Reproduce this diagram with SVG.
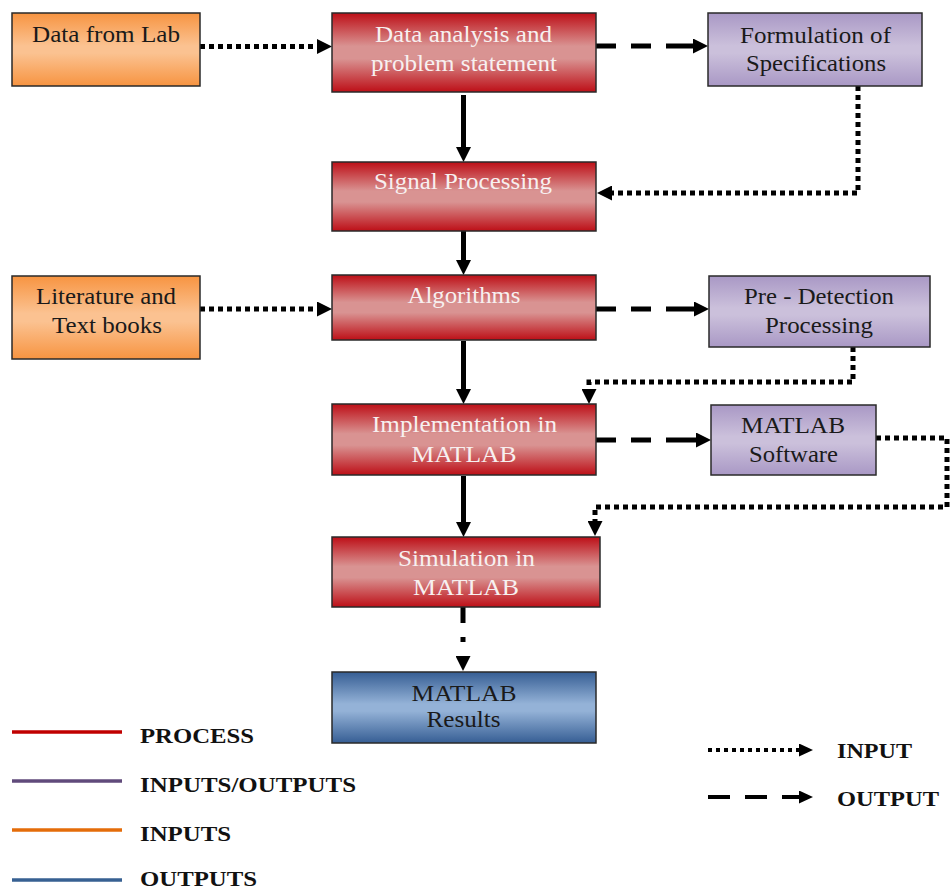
<svg xmlns="http://www.w3.org/2000/svg" width="950" height="890" viewBox="0 0 950 890">
<defs>
<linearGradient id="gRed" x1="0" y1="0" x2="0" y2="1">
<stop offset="0" stop-color="#bd0f17"/><stop offset="0.42" stop-color="#d99392"/><stop offset="0.58" stop-color="#d99392"/><stop offset="1" stop-color="#bd0f17"/>
</linearGradient>
<linearGradient id="gOrange" x1="0" y1="0" x2="0" y2="1">
<stop offset="0" stop-color="#f79441"/><stop offset="0.45" stop-color="#fbc291"/><stop offset="0.55" stop-color="#fbc291"/><stop offset="1" stop-color="#f79441"/>
</linearGradient>
<linearGradient id="gPurple" x1="0" y1="0" x2="0" y2="1">
<stop offset="0" stop-color="#a998c5"/><stop offset="0.45" stop-color="#cbc0db"/><stop offset="0.55" stop-color="#cbc0db"/><stop offset="1" stop-color="#a998c5"/>
</linearGradient>
<linearGradient id="gBlue" x1="0" y1="0" x2="0" y2="1">
<stop offset="0" stop-color="#365e94"/><stop offset="0.45" stop-color="#94b2d7"/><stop offset="0.55" stop-color="#94b2d7"/><stop offset="1" stop-color="#365e94"/>
</linearGradient>
<marker id="ah" markerUnits="userSpaceOnUse" markerWidth="15" markerHeight="15" viewBox="0 0 15 15" refX="0" refY="7.5" orient="auto">
<path d="M0,0 L15,7.5 L0,15 z" fill="#000"/>
</marker>
<marker id="ahs" markerUnits="userSpaceOnUse" markerWidth="14" markerHeight="13" viewBox="0 0 14 13" refX="0" refY="6.5" orient="auto">
<path d="M0,0 L14,6.5 L0,13 z" fill="#000"/>
</marker>
<style>
.box{stroke:#2a2a2a;stroke-width:1.5}
.red{fill:url(#gRed)}
.org{fill:url(#gOrange)}
.pur{fill:url(#gPurple)}
.blu{fill:url(#gBlue)}
text{font-family:"Liberation Serif","Times New Roman",serif;font-size:23px;text-anchor:middle}
.w{fill:#f7f0f0}
.k{fill:#1a1a1a}
.leg{font-weight:bold;font-size:21px;text-anchor:start;fill:#111}
.solid{fill:none;stroke:#000;stroke-width:5;marker-end:url(#ah)}
.dot{fill:none;stroke:#000;stroke-width:5;stroke-dasharray:5 4;marker-end:url(#ah)}
.dash{fill:none;stroke:#000;stroke-width:5;stroke-dasharray:20 15 20 15 60;marker-end:url(#ah)}
.lline{stroke-width:3.5;fill:none}
</style>
</defs>
<rect width="950" height="890" fill="#fff"/>

<g id="connectors">
<path class="dot" d="M200,46.5 H317"/>
<path class="dot" d="M200,309 H317"/>
<path class="dash" d="M596,46 H693"/>
<path class="dash" d="M596,309 H694"/>
<path class="dash" d="M596,440 H696"/>
<path class="dot" d="M858,86 V193 H612"/>
<path class="dot" d="M853,347 V382 H589 V389"/>
<path class="dot" d="M876,438 H947 V507 H595 V521"/>
<path class="solid" d="M463.5,95 V147"/>
<path class="solid" d="M463.5,231 V260"/>
<path class="solid" d="M463.5,341 V389"/>
<path class="solid" d="M463.5,476 V522"/>
<path fill="none" stroke="#000" stroke-width="5" stroke-dasharray="16 14 5 30" marker-end="url(#ah)" d="M463,607 V656"/>
</g>

<g id="lab">
<rect class="box org" x="12" y="13" width="188" height="73"/>
<text class="k" x="106" y="42" textLength="148" lengthAdjust="spacingAndGlyphs">Data from Lab</text>
</g>
<g id="analysis">
<rect class="box red" x="332" y="13" width="264" height="79"/>
<text class="w" x="463.5" y="42" textLength="177" lengthAdjust="spacingAndGlyphs">Data analysis and</text>
<text class="w" x="464" y="71" textLength="186" lengthAdjust="spacingAndGlyphs">problem statement</text>
</g>
<g id="formulation">
<rect class="box pur" x="708" y="13" width="214" height="73"/>
<text class="k" x="815.5" y="43" textLength="151" lengthAdjust="spacingAndGlyphs">Formulation of</text>
<text class="k" x="816" y="71" textLength="140" lengthAdjust="spacingAndGlyphs">Specifications</text>
</g>
<g id="signal">
<rect class="box red" x="332" y="162" width="264" height="69"/>
<text class="w" x="463" y="189" textLength="178" lengthAdjust="spacingAndGlyphs">Signal Processing</text>
</g>
<g id="literature">
<rect class="box org" x="12" y="276" width="188" height="83"/>
<text class="k" x="106" y="304" textLength="140" lengthAdjust="spacingAndGlyphs">Literature and</text>
<text class="k" x="107" y="333" textLength="110" lengthAdjust="spacingAndGlyphs">Text books</text>
</g>
<g id="algorithms">
<rect class="box red" x="332" y="275" width="264" height="65"/>
<text class="w" x="464" y="303" textLength="113" lengthAdjust="spacingAndGlyphs">Algorithms</text>
</g>
<g id="predetection">
<rect class="box pur" x="709" y="276" width="221" height="71"/>
<text class="k" x="819" y="304" textLength="150" lengthAdjust="spacingAndGlyphs">Pre - Detection</text>
<text class="k" x="819" y="333" textLength="108" lengthAdjust="spacingAndGlyphs">Processing</text>
</g>
<g id="implementation">
<rect class="box red" x="332" y="404" width="264" height="71"/>
<text class="w" x="464.5" y="432" textLength="185" lengthAdjust="spacingAndGlyphs">Implementation in</text>
<text class="w" x="464" y="462" textLength="105" lengthAdjust="spacingAndGlyphs">MATLAB</text>
</g>
<g id="software">
<rect class="box pur" x="711" y="405" width="165" height="70"/>
<text class="k" x="793" y="433" textLength="104" lengthAdjust="spacingAndGlyphs">MATLAB</text>
<text class="k" x="793.5" y="462" textLength="89" lengthAdjust="spacingAndGlyphs">Software</text>
</g>
<g id="simulation">
<rect class="box red" x="332" y="537" width="268" height="70"/>
<text class="w" x="466.5" y="566" textLength="137" lengthAdjust="spacingAndGlyphs">Simulation in</text>
<text class="w" x="466" y="595" textLength="106" lengthAdjust="spacingAndGlyphs">MATLAB</text>
</g>
<g id="results">
<rect class="box blu" x="332" y="672" width="264" height="71"/>
<text class="k" x="464" y="701" textLength="105" lengthAdjust="spacingAndGlyphs">MATLAB</text>
<text class="k" x="463.5" y="727" textLength="74" lengthAdjust="spacingAndGlyphs">Results</text>
</g>

<g id="legend">
<line class="lline" x1="12" y1="732" x2="122" y2="732" stroke="#c00000"/>
<text class="leg" x="140" y="743" textLength="114" lengthAdjust="spacingAndGlyphs">PROCESS</text>
<line class="lline" x1="12" y1="781" x2="122" y2="781" stroke="#604a7b"/>
<text class="leg" x="140" y="792" textLength="216" lengthAdjust="spacingAndGlyphs">INPUTS/OUTPUTS</text>
<line class="lline" x1="12" y1="830" x2="122" y2="830" stroke="#e46c0a"/>
<text class="leg" x="140" y="841" textLength="91" lengthAdjust="spacingAndGlyphs">INPUTS</text>
<line class="lline" x1="12" y1="880" x2="122" y2="880" stroke="#376092"/>
<text class="leg" x="140" y="886" textLength="117" lengthAdjust="spacingAndGlyphs">OUTPUTS</text>
<path d="M708,750 H799" fill="none" stroke="#000" stroke-width="4" stroke-dasharray="4 4" marker-end="url(#ahs)"/>
<text class="leg" x="837" y="758" textLength="75" lengthAdjust="spacingAndGlyphs">INPUT</text>
<path d="M708,797 H799" fill="none" stroke="#000" stroke-width="4" stroke-dasharray="22 15 22 15 40" marker-end="url(#ahs)"/>
<text class="leg" x="837" y="806" textLength="102" lengthAdjust="spacingAndGlyphs">OUTPUT</text>
</g>
</svg>
